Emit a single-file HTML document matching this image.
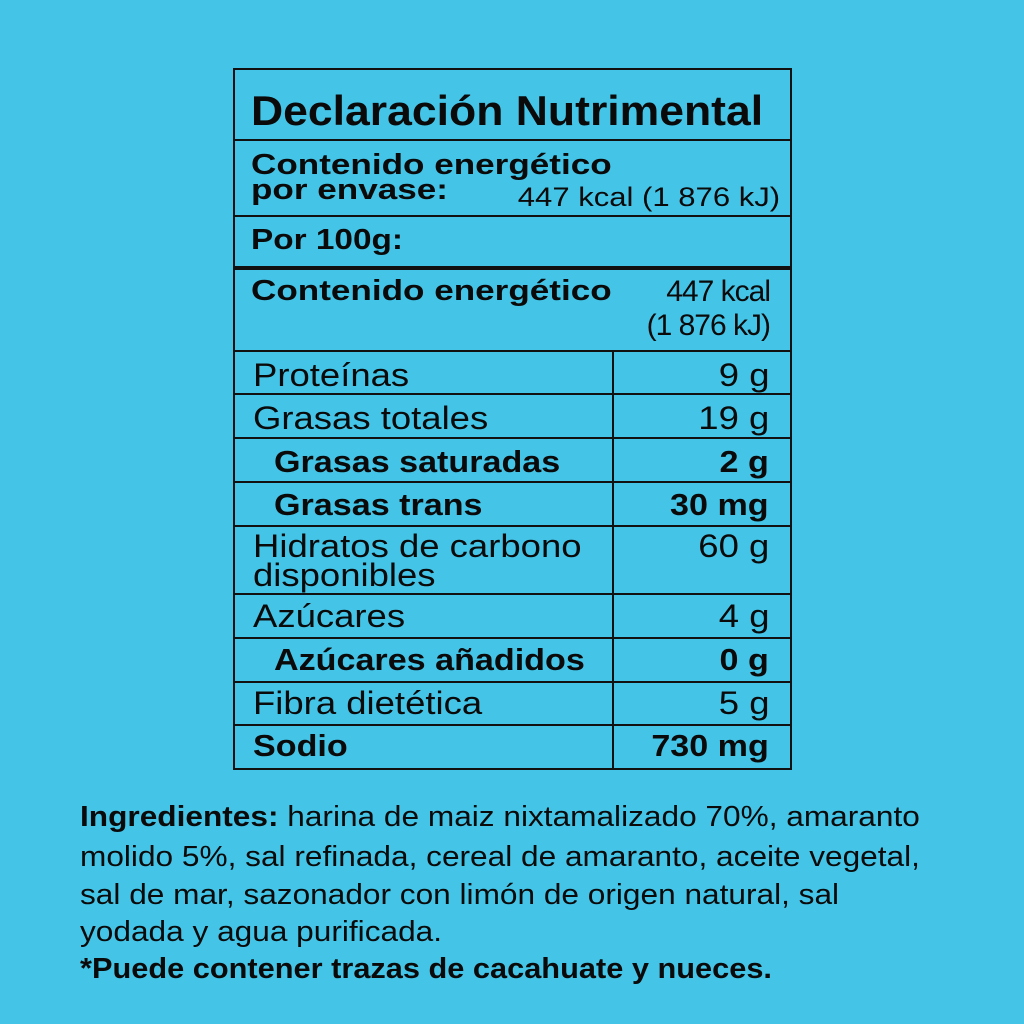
<!DOCTYPE html>
<html><head><meta charset="utf-8"><style>
body{margin:0;width:1024px;height:1024px;background:#44c5e8;position:relative;overflow:hidden;font-family:"Liberation Sans",sans-serif;color:#0a0a0a}
.t{position:absolute;white-space:nowrap;line-height:1;transform-origin:left top}
.h{position:absolute;left:233px;width:558px;background:#111;height:2px}
.b{font-weight:bold}
.r{transform-origin:right top}
.n{font-size:32px;transform:scaleX(1.14)}
.nb{font-size:31px;font-weight:bold;transform:scaleX(1.1)}
.i{font-size:29px;transform:scaleX(1.09)}
</style></head><body>
<div style="position:absolute;left:233px;top:68px;width:555px;height:698px;border:2px solid #111"></div>
<div class="h" style="top:139px"></div>
<div class="h" style="top:215px"></div>
<div class="h" style="top:266px;height:4px"></div>
<div class="h" style="top:350px"></div>
<div class="h" style="top:393px"></div>
<div class="h" style="top:437px"></div>
<div class="h" style="top:481px"></div>
<div class="h" style="top:525px"></div>
<div class="h" style="top:593px"></div>
<div class="h" style="top:637px"></div>
<div class="h" style="top:681px"></div>
<div class="h" style="top:724px"></div>
<div style="position:absolute;left:612px;top:350px;width:2px;height:418px;background:#111"></div>

<div class="t b" style="left:251px;top:90px;font-size:42px;transform:scaleX(1.06)">Declaración Nutrimental</div>
<div class="t b" style="left:251px;top:151px;font-size:29px;transform:scaleX(1.21)">Contenido energético</div>
<div class="t b" style="left:251px;top:176px;font-size:29px;transform:scaleX(1.21)">por envase:</div>
<div class="t r" style="right:244px;top:184px;font-size:27px;transform:scaleX(1.15)">447 kcal (1 876 kJ)</div>
<div class="t b" style="left:251px;top:226px;font-size:29px;transform:scaleX(1.15)">Por 100g:</div>
<div class="t b" style="left:251px;top:277px;font-size:29px;transform:scaleX(1.21)">Contenido energético</div>
<div class="t r" style="right:254px;top:277px;font-size:30px;letter-spacing:-1px">447 kcal</div>
<div class="t r" style="right:254px;top:311px;font-size:30px;letter-spacing:-1px">(1 876 kJ)</div>

<div class="t n" style="left:253px;top:359px">Proteínas</div>
<div class="t n r" style="right:255px;top:359px">9 g</div>
<div class="t n" style="left:253px;top:402px">Grasas totales</div>
<div class="t n r" style="right:255px;top:402px">19 g</div>
<div class="t nb" style="left:274px;top:446px">Grasas saturadas</div>
<div class="t nb r" style="right:255px;top:446px">2 g</div>
<div class="t nb" style="left:274px;top:489px">Grasas trans</div>
<div class="t nb r" style="right:255px;top:489px">30 mg</div>
<div class="t n" style="left:253px;top:530px">Hidratos de carbono</div>
<div class="t n" style="left:253px;top:559px">disponibles</div>
<div class="t n r" style="right:255px;top:530px">60 g</div>
<div class="t n" style="left:253px;top:600px">Azúcares</div>
<div class="t n r" style="right:255px;top:600px">4 g</div>
<div class="t nb" style="left:274px;top:644px">Azúcares añadidos</div>
<div class="t nb r" style="right:255px;top:644px">0 g</div>
<div class="t n" style="left:253px;top:687px">Fibra dietética</div>
<div class="t n r" style="right:255px;top:687px">5 g</div>
<div class="t nb" style="left:253px;top:730px">Sodio</div>
<div class="t nb r" style="right:255px;top:730px">730 mg</div>

<div class="t i" style="left:80px;top:803px"><span class="b">Ingredientes:</span> harina de maiz nixtamalizado 70%, amaranto</div>
<div class="t i" style="left:80px;top:843px">molido 5%, sal refinada, cereal de amaranto, aceite vegetal,</div>
<div class="t i" style="left:80px;top:881px">sal de mar, sazonador con limón de origen natural, sal</div>
<div class="t i" style="left:80px;top:918px">yodada y agua purificada.</div>
<div class="t b" style="left:80px;top:955px;font-size:29px;transform:scaleX(1.06)">*Puede contener trazas de cacahuate y nueces.</div>
</body></html>
